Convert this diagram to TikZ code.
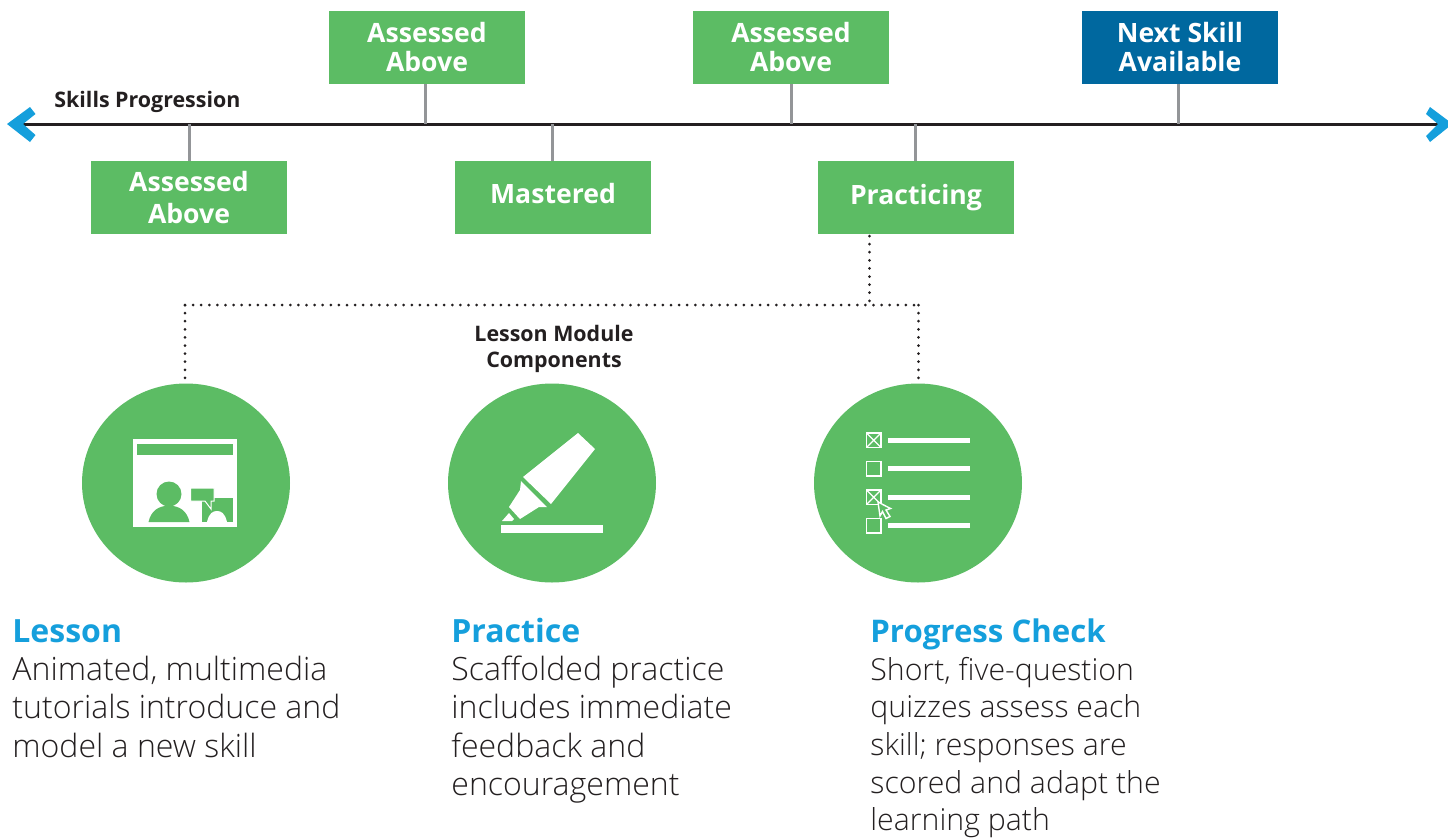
\documentclass[tikz,border=0pt]{standalone}
\usepackage{fontspec}
\setmainfont{Open Sans}
\newfontfamily\lightfont[UprightFont={* Light},BoldFont={* Light}]{Open Sans}
\definecolor{lgreen}{HTML}{5CBC64}
\definecolor{dblue}{HTML}{00689F}
\definecolor{cyanb}{HTML}{159FDC}
\definecolor{ink}{HTML}{231F20}
\definecolor{stemg}{HTML}{939598}
\tikzset{
  x=0.5pt,y=-0.5pt,
  skillbox/.style={fill=lgreen,minimum width=98pt,minimum height=36.5pt,inner sep=0pt,text=white,align=center,font=\fontsize{13.3}{14.5}\selectfont\bfseries},
  nextbox/.style={skillbox,fill=dblue},
  stem/.style={draw=stemg,line width=1.5pt},
  axis/.style={draw=ink,line width=1.35pt},
  dots/.style={draw=ink,line width=1.5pt,line cap=round,dash pattern=on 0pt off 4.05pt},
  comp/.style={ellipse,fill=lgreen,minimum width=104pt,minimum height=99.5pt,inner sep=0pt},
  smallhead/.style={text=ink,inner sep=0pt,font=\fontsize{10.7}{13}\selectfont\bfseries},
  heading/.style={text=cyanb,inner sep=0pt,anchor=base west,font=\fontsize{16}{19}\selectfont\bfseries},
  body/.style={text=ink,inner sep=0pt,anchor=north west,align=left,font=\lightfont\fontsize{16.03}{19.2}\selectfont},
  bodysmall/.style={body,font=\lightfont\fontsize{15.13}{18.85}\selectfont},
  whitefill/.style={fill=white,draw=none},
  greenfill/.style={fill=lgreen,draw=none},
}
\usetikzlibrary{shapes.geometric}
\begin{document}
\begin{tikzpicture}
\useasboundingbox (0,0) rectangle (1448,837);
% axis
\coordinate (axisL) at (23,124.5);
\coordinate (axisR) at (1438,124.5);
\draw[axis] (axisL) -- (axisR);
\fill[cyanb] (7,124) -- (30,107) -- (35.5,114) -- (23,124) -- (35.5,135) -- (30,142) -- cycle;
\fill[cyanb] (1448,120.5) -- (1430,107) -- (1426,114) -- (1438,124) -- (1426,136) -- (1430,142) -- (1448,127.5) -- cycle;
% boxes
\node[skillbox] (a1) at (189,197.5) {\raisebox{0.5pt}{Assessed}\\[0.8pt]Above};
\node[skillbox] (a2) at (427,47.5) {\raisebox{0.5pt}{Assessed}\\\raisebox{0.5pt}{Above}};
\node[skillbox] (m) at (553,197.5) {\raisebox{4pt}{Mastered}};
\node[skillbox] (a3) at (791,47.5) {\raisebox{0.5pt}{Assessed}\\\raisebox{0.5pt}{Above}};
\node[skillbox] (p) at (916,197.5) {\raisebox{2.5pt}{Practicing}};
\node[nextbox] (n) at (1180,47.5) {\raisebox{0.5pt}{Next Skill}\\\raisebox{0.5pt}{Available}};
% stems
\coordinate (s1) at (189,124);
\coordinate (s2) at (425,124);
\coordinate (s3) at (552.5,124);
\coordinate (s4) at (791.5,124);
\coordinate (s5) at (915.5,124);
\coordinate (s6) at (1178,124);
\draw[stem] (s1) -- (a1.north -| s1);
\draw[stem] (s2) -- (a2.south -| s2);
\draw[stem] (s3) -- (m.north -| s3);
\draw[stem] (s4) -- (a3.south -| s4);
\draw[stem] (s5) -- (p.north -| s5);
\draw[stem] (s6) -- (n.south -| s6);
% labels
\node[smallhead,anchor=base west] (sp) at (54,107) {Skills Progression};
\node[smallhead,align=center,anchor=north] (lm) at (554,325) {Lesson Module\\Components};
% circles
\node[comp] (c1) at (186,483) {};
\node[comp] (c2) at (552,483) {};
\node[comp] (c3) at (918,483) {};
% dotted
\coordinate (j0) at (869.5,305);
\coordinate (jL) at (185,305);
\coordinate (jR) at (918.5,305);
\draw[dots] (869.5,236) -- (j0);
\draw[dots] (jL) -- (jR);
\draw[dots] (jL) -- (c1.north -| jL);
\draw[dots] (jR) -- (c3.north -| jR);
% lesson icon
\fill[whitefill] (133,439) rectangle (237,527);
\fill[greenfill] (137,444) rectangle (233,455);
\fill[greenfill] (169,494) circle (6.25pt);
\fill[greenfill] (148.5,522) .. controls (151,511) and (158,506) .. (169,505.5) .. controls (180,506) and (187,511) .. (189.5,522) -- cycle;
\fill[greenfill] (202,498) rectangle (233,522);
\draw[white,line width=0.5pt,fill=lgreen] (190.5,488) -- (214,488) -- (214,501) -- (211,501) -- (211,509) -- (205,501) -- (190.5,501) -- cycle;
\fill[whitefill] (207,522) .. controls (209,513) and (213,511) .. (217,511) .. controls (221,511) and (225,513) .. (227,522) -- cycle;
% highlighter icon
\fill[whitefill] (578,433) -- (595,449) -- (551,504) -- (523,477) -- cycle;
\fill[whitefill] (521,481) -- (547,507) -- (539,507) -- (520,519) -- (509,507) -- (520,490) -- cycle;
\fill[whitefill] (502,521) -- (509,513) -- (514,519) -- (512,521) -- cycle;
\fill[whitefill] (501,525) rectangle (603,533);
% checklist icon
\foreach \yy/\ll in {433/440,461.5/468,490/497.5,518.5/525}{
  \draw[white,line width=0.7pt] (866.5,\yy) rectangle +(14.5,14.5);
  \fill[whitefill] (888,\ll-2.5) rectangle (970,\ll+2.5);
}
\draw[white,line width=0.6pt] (866.5,433) -- (881,447.5) (881,433) -- (866.5,447.5);
\draw[white,line width=0.6pt] (866.5,490) -- (881,504.5) (881,490) -- (866.5,504.5);
\draw[white,line width=0.7pt,fill=lgreen] (878,502) -- (890.5,508.5) -- (886,510) -- (890,516.5) -- (886,518.5) -- (882.5,511.5) -- (880,516) -- cycle;
% text
\node[heading] (h1) at (12,642) {Lesson};
\node[heading] (h2) at (451,642) {Practice};
\node[heading,font=\fontsize{15.6}{19}\selectfont\bfseries] (h3) at (870,642) {Progress Check};
\node[body] (b1) at (12,655.5) {Animated, multimedia\\tutorials introduce and\\model a new skill};
\node[body] (b2) at (451,655.5) {Scaffolded practice\\includes immediate\\feedback and\\encouragement};
\node[bodysmall] (b3) at (870,656.5) {Short, five-question\\quizzes assess each\\skill; responses are\\scored and adapt the\\learning path};
\end{tikzpicture}
\end{document}
